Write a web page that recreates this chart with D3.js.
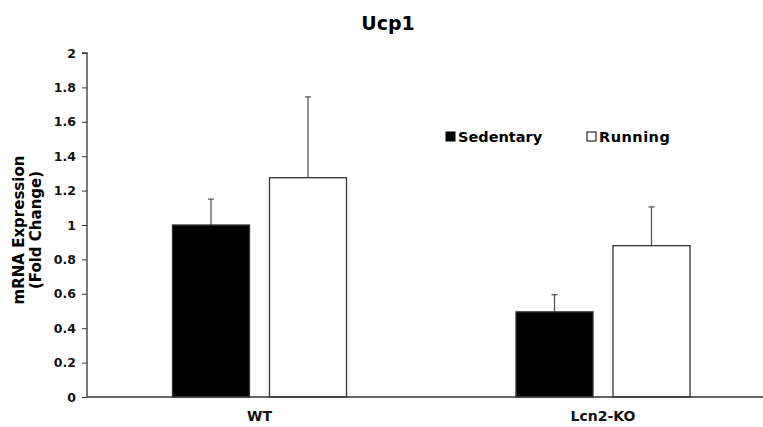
<!DOCTYPE html>
<html>
<head>
<meta charset="utf-8">
<script src="https://cdn.jsdelivr.net/npm/d3@7"></script>
<style>
  body { margin: 0; background: #fff; }
  text { font-family: "DejaVu Sans", sans-serif; }
</style>
</head>
<body>
<div id="chart"></div>
<script>
// Dati
const groups = ["WT", "Lcn2-KO"];
const seriesNames = ["Sedentary", "Running"];
const sedentary = [1.0, 0.495];
const running = [1.275, 0.88];
const sedentaryErr = [0.15, 0.10];
const runningErr = [0.47, 0.225];
const yTicks = [0, 0.2, 0.4, 0.6, 0.8, 1, 1.2, 1.4, 1.6, 1.8, 2];

const width = 763, height = 427;
const margin = { top: 53, left: 87, bottom: 30 };
const fontFam = "DejaVu Sans, sans-serif";

const svg = d3.select("#chart").append("svg")
    .attr("width", width)
    .attr("height", height);

const yScale = d3.scaleLinear().domain([0, 2]).range([height - margin.bottom, margin.top]);

const x0 = d3.scaleBand().domain(groups).range([87.75, 774.75])
    .paddingInner(0.4934).paddingOuter(0.2467);
const x1 = d3.scaleBand().domain(seriesNames).range([0, x0.bandwidth()]).paddingInner(0.206);

// Titolo
svg.append("text")
    .attr("x", 388).attr("y", 30)
    .attr("text-anchor", "middle")
    .attr("font-size", "19px")
    .attr("font-weight", "bold")
    .text("Ucp1");

// Asse Y
const yAxis = svg.append("g")
    .attr("transform", `translate(${margin.left},0)`)
    .call(d3.axisLeft(yScale).tickValues(yTicks).tickSize(5).tickPadding(6).tickFormat(d3.format("")));
yAxis.select(".domain").attr("stroke", "#333").attr("stroke-width", 1.3).attr("d", `M-5,${yScale(2)}H0V${yScale(0)}`);
yAxis.selectAll(".tick line").attr("stroke", "#333");
yAxis.selectAll(".tick text")
    .attr("font-family", fontFam)
    .attr("font-size", "12.5px")
    .attr("font-weight", "bold")
    .attr("fill", "#111");

// Etichetta asse Y
const yLabel = svg.append("text")
    .attr("transform", "translate(24,230) rotate(-90)")
    .attr("text-anchor", "middle")
    .attr("font-size", "15px")
    .attr("font-weight", "bold");
yLabel.append("tspan").attr("x", 0).attr("dy", 0).text("mRNA Expression");
yLabel.append("tspan").attr("x", 0).attr("dy", 17).text("(Fold Change)");

// Barre
const rows = groups.map((g, i) => ({
    group: g,
    bars: [
        { name: "Sedentary", value: sedentary[i], err: sedentaryErr[i] },
        { name: "Running", value: running[i], err: runningErr[i] }
    ]
}));

const groupG = svg.selectAll(".grp")
    .data(rows)
    .enter().append("g")
    .attr("class", "grp")
    .attr("transform", d => `translate(${x0(d.group)},0)`);

// Barre di errore (dietro le barre)
groupG.selectAll(".err")
    .data(d => d.bars)
    .enter().append("path")
    .attr("class", "err")
    .attr("stroke", "#555")
    .attr("stroke-width", 1.3)
    .attr("fill", "none")
    .attr("d", d => {
        const cx = x1(d.name) + x1.bandwidth() / 2;
        return `M${cx},${yScale(d.value)}V${yScale(d.value + d.err)}M${cx - 3},${yScale(d.value + d.err)}H${cx + 3}`;
    });

groupG.selectAll("rect")
    .data(d => d.bars)
    .enter().append("rect")
    .attr("x", d => x1(d.name))
    .attr("y", d => yScale(d.value))
    .attr("width", x1.bandwidth())
    .attr("height", d => yScale(0) - yScale(d.value))
    .attr("fill", d => d.name === "Sedentary" ? "#000" : "#fff")
    .attr("stroke", "#333")
    .attr("stroke-width", 1.3);

// Asse X (solo linea)
const xAxis = svg.append("g")
    .attr("transform", `translate(0,${yScale(0)})`)
    .call(d3.axisBottom(x0).tickSize(0).tickPadding(14));
xAxis.select(".domain").attr("stroke", "#333").attr("stroke-width", 1.3).attr("d", `M${margin.left},0H${width}`);
xAxis.selectAll(".tick text")
    .attr("font-family", fontFam)
    .attr("font-size", "14px")
    .attr("font-weight", "bold")
    .attr("fill", "#111");

// Legenda
const legendX = [446, 587];
const legend = svg.selectAll(".leg")
    .data(seriesNames)
    .enter().append("g")
    .attr("class", "leg")
    .attr("transform", (d, i) => `translate(${legendX[i]},132)`);
legend.append("rect")
    .attr("width", 9).attr("height", 9)
    .attr("fill", d => d === "Sedentary" ? "#000" : "#fff")
    .attr("stroke", "#000")
    .attr("stroke-width", 1);
legend.append("text")
    .attr("x", 12).attr("y", 10)
    .attr("font-size", "14.5px")
    .attr("font-weight", "bold")
    .attr("letter-spacing", d => d === "Running" ? "0.5px" : "0px")
    .text(d => d);
</script>
</body>
</html>
